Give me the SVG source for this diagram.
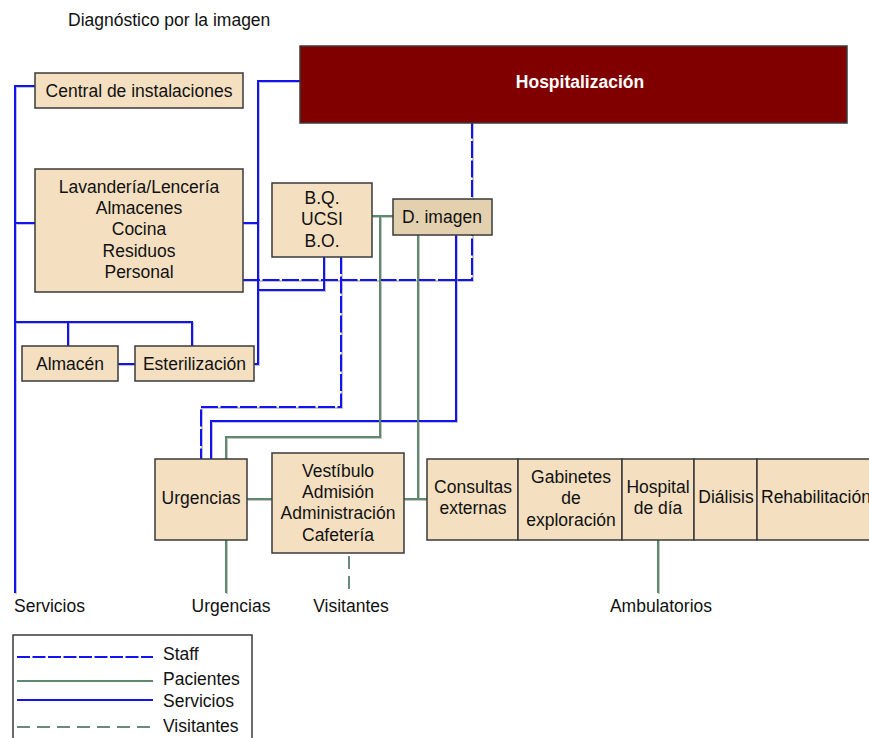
<svg xmlns="http://www.w3.org/2000/svg" width="869" height="738" viewBox="0 0 869 738">
<style>
text{font-family:"Liberation Sans",Arial,sans-serif;font-size:17.5px;fill:#111;text-anchor:middle}
.box{fill:#f4e0c1;stroke:#3a3a3a;stroke-width:1.5}
.dimg{fill:#e3d0ae;stroke:#3a3a3a;stroke-width:1.5}
.hosp{fill:#800000;stroke:#3a3a3a;stroke-width:1.5}
.shd{fill:none;stroke:#c4c4c4;stroke-width:2}
.srv{fill:none;stroke:#1212f2;stroke-width:2}
.stf{fill:none;stroke:#1212f2;stroke-width:2;stroke-dasharray:17 2.5}
.stl{fill:none;stroke:#1212f2;stroke-width:2;stroke-dasharray:13 2.5}
.pac{fill:none;stroke:#5f8a6e;stroke-width:2}
.vis{fill:none;stroke:#6a8a78;stroke-width:2;stroke-dasharray:13 7}
.lab{text-anchor:start}
</style>
<defs>
  <path id="p-srv1" d="M15,593 V86 H35 M15,223 H35 M15,322 H192 V346 M68,322 V346 M118,364 H135"/>
  <path id="p-srv2" d="M300,81 H258 V364 H254 M243,223 H258 M258,290 H324 V257"/>
  <path id="p-srv3" d="M456,235 V421 H211 V459"/>
  <path id="p-stf1" d="M243,280 H472 V123"/>
  <path id="p-stf2" d="M341,257 V407 H201 V459"/>
  <path id="p-pac1" d="M372,216 H393 M380,216 V437 H226 V459"/>
  <path id="p-pac2" d="M418,235 V499 M404,499 H427 M247,499 H272"/>
  <path id="p-pac3" d="M226,540 V593 M658,540 V593"/>
  <path id="p-vis1" d="M349,556 V595"/>
</defs>
<rect width="869" height="738" fill="#fff"/>
<text class="lab" x="68" y="26">Diagnóstico por la imagen</text>

<g id="connectors">
  <g transform="translate(1,1)" class="shd">
    <use href="#p-srv1"/><use href="#p-srv2"/><use href="#p-srv3"/>
    <use href="#p-stf1"/><use href="#p-stf2"/>
    <use href="#p-pac1"/><use href="#p-pac2"/><use href="#p-pac3"/>
  </g>
  <use class="srv" href="#p-srv1"/>
  <use class="srv" href="#p-srv2"/>
  <use class="srv" href="#p-srv3"/>
  <use class="stf" href="#p-stf1"/>
  <use class="stf" href="#p-stf2"/>
  <use class="pac" href="#p-pac1"/>
  <use class="pac" href="#p-pac2"/>
  <use class="pac" href="#p-pac3"/>
  <use class="vis" href="#p-vis1"/>
</g>

<g id="hospitalizacion"><rect class="hosp" x="300" y="46" width="547" height="77"/><text x="580" y="88" style="fill:#fff;font-weight:bold">Hospitalización</text></g>
<g id="central"><rect class="box" x="35" y="73" width="208" height="35"/><text x="139" y="97">Central de instalaciones</text></g>
<g id="lavanderia"><rect class="box" x="35" y="169" width="208" height="123"/>
  <text x="139" y="193">Lavandería/Lencería</text><text x="139" y="214">Almacenes</text><text x="139" y="235">Cocina</text><text x="139" y="257">Residuos</text><text x="139" y="278">Personal</text></g>
<g id="almacen"><rect class="box" x="22" y="346" width="96" height="35"/><text x="70" y="370">Almacén</text></g>
<g id="esterilizacion"><rect class="box" x="135" y="346" width="119" height="35"/><text x="194.5" y="370">Esterilización</text></g>
<g id="bq"><rect class="box" x="272" y="183" width="100" height="74"/><text x="322" y="204">B.Q.</text><text x="322" y="225">UCSI</text><text x="322" y="247">B.O.</text></g>
<g id="dimagen"><rect class="dimg" x="393" y="199" width="99" height="36"/><text x="442" y="223">D. imagen</text></g>
<g id="urgencias"><rect class="box" x="155" y="459" width="92" height="81"/><text x="201" y="504">Urgencias</text></g>
<g id="vestibulo"><rect class="box" x="272" y="453" width="132" height="100"/>
  <text x="338" y="477">Vestíbulo</text><text x="338" y="498">Admisión</text><text x="338" y="519">Administración</text><text x="338" y="541">Cafetería</text></g>
<g id="consultas"><rect class="box" x="427" y="459" width="91" height="81"/><text x="473" y="493">Consultas</text><text x="473" y="514">externas</text></g>
<g id="gabinetes"><rect class="box" x="518" y="459" width="104" height="81"/><text x="571" y="483">Gabinetes</text><text x="571" y="504">de</text><text x="571" y="526">exploración</text></g>
<g id="hospitaldia"><rect class="box" x="622" y="459" width="72" height="81"/><text x="658" y="493">Hospital</text><text x="658" y="514">de día</text></g>
<g id="dialisis"><rect class="box" x="694" y="459" width="63" height="81"/><text x="726" y="503">Diálisis</text></g>
<g id="rehabilitacion"><rect class="box" x="757" y="459" width="130" height="81"/><text class="lab" x="761" y="503">Rehabilitación</text></g>

<g id="labels">
  <text class="lab" x="14" y="612">Servicios</text>
  <text x="231" y="612">Urgencias</text>
  <text x="351" y="612">Visitantes</text>
  <text x="661" y="612">Ambulatorios</text>
</g>

<g id="legend">
  <rect x="13" y="635" width="239" height="110" fill="#fff" stroke="#3a3a3a" stroke-width="1.5"/>
  <line class="stl" x1="17" y1="657" x2="153" y2="657"/>
  <line class="pac" x1="17" y1="681" x2="153" y2="681"/>
  <line class="srv" x1="17" y1="700" x2="153" y2="700"/>
  <line class="vis" x1="17" y1="727" x2="153" y2="727"/>
  <text class="lab" x="163" y="660">Staff</text>
  <text class="lab" x="163" y="685">Pacientes</text>
  <text class="lab" x="163" y="707">Servicios</text>
  <text class="lab" x="163" y="732">Visitantes</text>
</g>
</svg>
